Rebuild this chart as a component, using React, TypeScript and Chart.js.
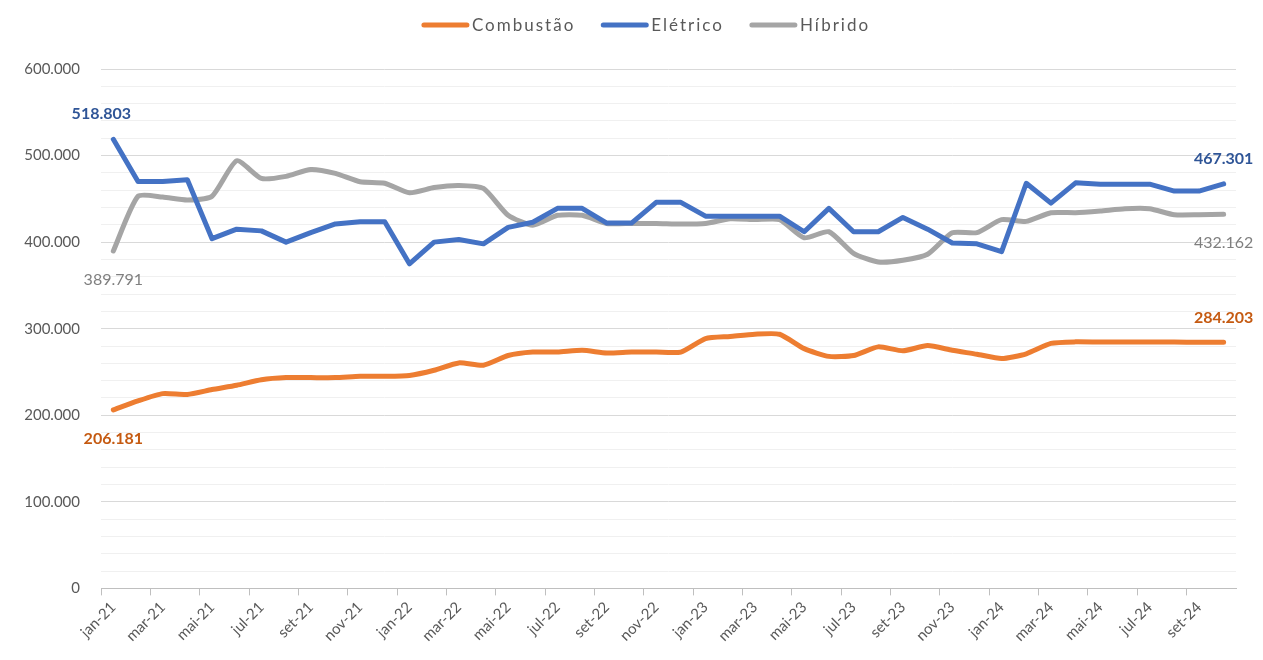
import React, { useEffect, useRef } from "react";
import { Chart, registerables } from "chart.js";

Chart.register(...registerables);

const months: string[] = [
  "jan-21", "fev-21", "mar-21", "abr-21", "mai-21", "jun-21", "jul-21", "ago-21", "set-21", "out-21", "nov-21", "dez-21",
  "jan-22", "fev-22", "mar-22", "abr-22", "mai-22", "jun-22", "jul-22", "ago-22", "set-22", "out-22", "nov-22", "dez-22",
  "jan-23", "fev-23", "mar-23", "abr-23", "mai-23", "jun-23", "jul-23", "ago-23", "set-23", "out-23", "nov-23", "dez-23",
  "jan-24", "fev-24", "mar-24", "abr-24", "mai-24", "jun-24", "jul-24", "ago-24", "set-24", "out-24",
];

const combustao: number[] = [
  206181, 216600, 225000, 224000, 229700, 234700, 241000, 243500, 243500, 243500, 245000, 245000,
  246000, 252000, 260500, 257800, 269000, 273000, 273000, 275000, 272000, 273000, 273000, 273000,
  288600, 291000, 293600, 293600, 277000, 268000, 269000, 279000, 274400, 280500, 275000, 270500,
  265500, 271000, 283000, 284800, 284500, 284500, 284500, 284500, 284300, 284203,
];

const eletrico: number[] = [
  518803, 470000, 470000, 472000, 404000, 415000, 413000, 400000, 411000, 421000, 423500, 423500,
  375000, 400000, 403000, 398000, 417000, 423000, 439000, 439000, 422000, 422000, 446000, 446000,
  430000, 430000, 430000, 430000, 412000, 439000, 412000, 412000, 428500, 415000, 399000, 398000,
  389000, 468000, 445000, 468500, 467000, 467000, 467000, 459000, 459000, 467301,
];

const hibrido: number[] = [
  389791, 453000, 452000, 448600, 453000, 494000, 473600, 476000, 484000, 479400, 469700, 468000,
  457000, 463000, 465500, 462000, 431000, 419600, 431000, 431000, 421600, 421600, 421600, 421000,
  421600, 427000, 426000, 426000, 405000, 412000, 387000, 377000, 379000, 386000, 410800, 411000,
  426000, 424000, 434000, 434000, 436000, 438600, 438600, 431600, 431600, 432162,
];

const seriesNames: string[] = ["Combustão", "Elétrico", "Híbrido"];
const seriesColors: string[] = ["#ED7D31", "#4472C4", "#A5A5A5"];
const yMax = 600000;

const FONT = "'Lato', 'Liberation Sans', sans-serif";

const fmt = (v: number) => {
  const s = Math.round(v).toString();
  return s.replace(/\B(?=(\d{3})+(?!\d))/g, ".");
};

const labelCfg: { first: "above" | "below"; last: "above" | "below"; color: string; bold: boolean; dx0: number }[] = [
  { first: "below", last: "above", color: "#C55A11", bold: true, dx0: 0 },
  { first: "above", last: "above", color: "#2F5597", bold: true, dx0: -12 },
  { first: "below", last: "below", color: "#7F7F7F", bold: false, dx0: 0 },
];

const endLabelsPlugin = {
  id: "endLabels",
  afterDatasetsDraw(chart: any) {
    const ctx = chart.ctx;
    chart.data.datasets.forEach((ds: any, di: number) => {
      const meta = chart.getDatasetMeta(di);
      const cfg = labelCfg[di];
      const pts = meta.data;
      [0, pts.length - 1].forEach((idx, k) => {
        const p = pts[idx];
        const pos = k === 0 ? cfg.first : cfg.last;
        const text = fmt(ds.data[idx]);
        ctx.save();
        ctx.font = `${cfg.bold ? "bold " : ""}16px ${FONT}`;
        ctx.fillStyle = cfg.color;
        ctx.textBaseline = "middle";
        ctx.textAlign = "center";
        const w = ctx.measureText(text).width;
        let x = p.x + (k === 0 ? cfg.dx0 : 0);
        if (x + w / 2 > chart.width - 2) x = chart.width - 2 - w / 2;
        const y = pos === "above" ? p.y - 25 : p.y + 29;
        ctx.fillText(text, x, y);
        ctx.restore();
      });
    });
  },
};

const legendPlugin = {
  id: "customLegend",
  afterDraw(chart: any) {
    const ctx = chart.ctx;
    ctx.save();
    ctx.font = `17px ${FONT}`;
    (ctx as any).letterSpacing = "2px";
    const sw = 47;
    const gap = 3;
    const itemGap = 26;
    const widths = seriesNames.map((n) => sw + gap + ctx.measureText(n).width);
    const total = widths.reduce((a, b) => a + b, 0) + itemGap * (seriesNames.length - 1);
    let x = 646 - total / 2;
    const y = 25;
    seriesNames.forEach((n, i) => {
      ctx.strokeStyle = seriesColors[i];
      ctx.lineWidth = 5;
      ctx.lineCap = "round";
      ctx.beginPath();
      ctx.moveTo(x + 2, y);
      ctx.lineTo(x + sw - 2, y);
      ctx.stroke();
      ctx.fillStyle = "#595959";
      ctx.textBaseline = "middle";
      ctx.textAlign = "left";
      ctx.fillText(n, x + sw + gap, y + 1);
      x += widths[i] + itemGap;
    });
    ctx.restore();
  },
};

export default function App() {
  const ref = useRef<HTMLCanvasElement | null>(null);

  useEffect(() => {
    document.body.style.margin = "0";
    const chart = new Chart(ref.current as HTMLCanvasElement, {
      type: "line",
      data: {
        labels: months,
        datasets: [combustao, eletrico, hibrido].map((d, i) => ({
          label: seriesNames[i],
          data: d,
          borderColor: seriesColors[i],
          backgroundColor: seriesColors[i],
          borderWidth: 5,
          pointRadius: 0,
          tension: i === 1 ? 0 : 0.2,
          borderCapStyle: "round",
          borderJoinStyle: "round",
        })),
      },
      options: {
        animation: false,
        responsive: false,
        maintainAspectRatio: false,
        layout: { padding: { top: 69, right: 27, left: 0, bottom: 12 } },
        plugins: {
          tooltip: { enabled: false },
          legend: { display: false },
        },
        scales: {
          x: {
            offset: true,
            grid: {
              offset: true,
              drawOnChartArea: false,
              drawTicks: true,
              tickLength: 7,
              color: (c: any) => (c.index % 2 === 0 ? "#bfbfbf" : "rgba(0,0,0,0)"),
            },
            border: { color: "#bfbfbf", width: 1 },
            ticks: {
              autoSkip: false,
              minRotation: 45,
              maxRotation: 45,
              color: "#595959",
              font: { family: FONT, size: 15 },
              callback: function (_v: any, i: number) {
                return i % 2 === 0 ? months[i] : "";
              },
            },
          },
          y: {
            min: 0,
            max: yMax,
            afterFit: (s: any) => {
              s.width = 101;
            },
            border: { display: false },
            grid: {
              drawTicks: false,
              color: (c: any) =>
                c.tick && c.tick.value % 100000 === 0 ? "#d9d9d9" : "#f0f0f0",
              lineWidth: 1,
            },
            ticks: {
              stepSize: 20000,
              autoSkip: false,
              padding: 21,
              color: "#595959",
              font: { family: FONT, size: 15 },
              callback: (v: any) => (Number(v) % 100000 === 0 ? fmt(Number(v)) : ""),
            },
          },
        },
      },
      plugins: [endLabelsPlugin, legendPlugin],
    });
    return () => chart.destroy();
  }, []);

  return (
    <div style={{ width: 1263, height: 660, background: "#ffffff" }}>
      <canvas ref={ref} width={1263} height={660} />
    </div>
  );
}
